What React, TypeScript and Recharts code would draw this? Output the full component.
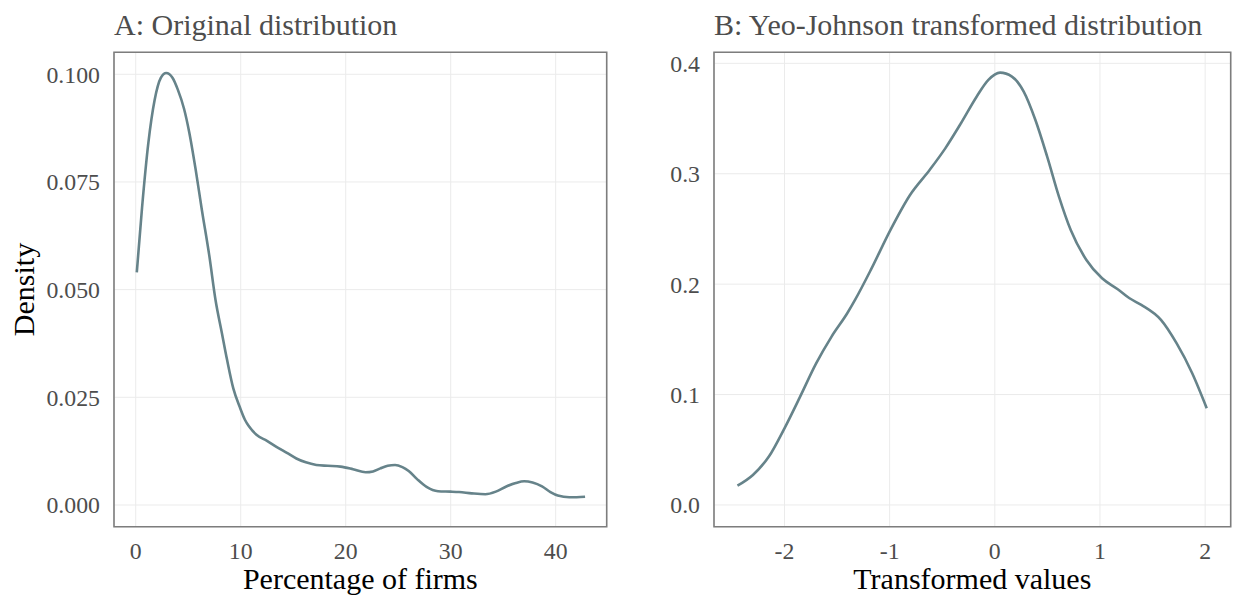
import { LineChart, Line, XAxis, YAxis, CartesianGrid, ReferenceArea, Label } from "recharts";

// A: original distribution (percentage of firms -> density)
const origX = [
  0.1, 0.6, 1.2, 1.8, 2.4, 2.9, 3.5, 4.0, 4.6, 5.1, 5.7, 6.3, 7.0, 7.6, 8.2, 8.7, 9.3, 9.9, 10.4, 10.8,
  11.5, 12.5, 13.4, 14.4, 15.3, 16.2, 17.2, 18.3, 19.5, 20.7, 21.9, 22.6, 23.3, 24.0, 24.7, 25.4, 26.0,
  26.8, 27.7, 28.8, 30.0, 30.8, 32.0, 33.3, 34.3, 35.3, 36.2, 37.0, 37.8, 38.7, 39.5, 40.2, 41.3, 42.0, 42.8,
];
const origY = [
  0.054, 0.069, 0.084, 0.094, 0.0992, 0.1003, 0.0992, 0.0965, 0.092, 0.0865, 0.078, 0.0685, 0.058, 0.0476,
  0.04, 0.0337, 0.027, 0.0228, 0.0198, 0.0182, 0.0163, 0.0149, 0.0135, 0.0121, 0.0108, 0.0099, 0.0093,
  0.0091, 0.0089, 0.0083, 0.0076, 0.0078, 0.0085, 0.0091, 0.0093, 0.0088, 0.0079, 0.006, 0.0042, 0.0032,
  0.0031, 0.003, 0.0027, 0.0025, 0.0031, 0.0043, 0.0051, 0.0055, 0.0052, 0.0043, 0.003, 0.0022, 0.0018,
  0.0018, 0.0019,
];

// B: Yeo-Johnson transformed values -> density
const yjX = [
  -2.447, -2.3, -2.148, -2.0, -1.851, -1.7, -1.552, -1.403, -1.329, -1.179, -0.993, -0.806, -0.62, -0.471,
  -0.322, -0.173, -0.061, 0.05, 0.163, 0.275, 0.386, 0.498, 0.61, 0.722, 0.871, 1.02, 1.169, 1.281, 1.393,
  1.58, 1.728, 1.877, 2.015,
];
const yjY = [
  0.0175, 0.0272, 0.0438, 0.0694, 0.0981, 0.128, 0.1525, 0.1736, 0.1857, 0.2129, 0.249, 0.2808, 0.3034,
  0.323, 0.3457, 0.3698, 0.385, 0.3916, 0.388, 0.3744, 0.3487, 0.3155, 0.2793, 0.249, 0.2219, 0.2053,
  0.1954, 0.1872, 0.1812, 0.1676, 0.1465, 0.1193, 0.0876,
];

const origXTicks = [0, 10, 20, 30, 40];
const origYTicks = [0, 0.025, 0.05, 0.075, 0.1];
const yjXTicks = [-2, -1, 0, 1, 2];
const yjYTicks = [0, 0.1, 0.2, 0.3, 0.4];

const FONT = "'Liberation Serif', 'Times New Roman', serif";
const LINE = "#66838a";
const BORDER = "#7d7d7d";
const GRID = "#ebebeb";
const TICK = "#4d4d4d";

interface PanelProps {
  xs: number[];
  ys: number[];
  xTicks: number[];
  yTicks: number[];
  xDomain: [number, number];
  yDomain: [number, number];
  yDigits: number;
  title: string;
  xTitle: string;
  yTitle?: string;
  width: number;
  yAxisWidth: number;
  rightMargin: number;
}

function Panel(p: PanelProps) {
  const data = p.xs.map((x, i) => ({ x, y: p.ys[i] }));
  const tickStyle = { fill: TICK, fontSize: 23.8, fontFamily: FONT };

  return (
    <LineChart
      width={p.width}
      height={596}
      data={data}
      margin={{ top: 52.3, right: p.rightMargin, bottom: 0, left: 0 }}
    >
      <CartesianGrid stroke={GRID} strokeWidth={1} />
      <XAxis
        type="number"
        dataKey="x"
        domain={p.xDomain}
        ticks={p.xTicks}
        allowDataOverflow
        height={69.3}
        axisLine={false}
        tickLine={false}
        tickSize={0}
        tickMargin={15}
        tick={tickStyle}
      >
        <Label
          content={(props: any) => {
            const vb = props.viewBox;
            return (
              <text
                x={vb.x + vb.width / 2}
                y={vb.y + 62.5}
                textAnchor="middle"
                fontFamily={FONT}
                fontSize={30}
                fill="#000"
              >
                {p.xTitle}
              </text>
            );
          }}
        />
      </XAxis>
      <YAxis
        type="number"
        domain={p.yDomain}
        ticks={p.yTicks}
        allowDataOverflow
        width={p.yAxisWidth}
        axisLine={false}
        tickLine={false}
        tickSize={0}
        tickMargin={14}
        tick={tickStyle}
        tickFormatter={(v: number) => v.toFixed(p.yDigits)}
      >
        <Label
          content={(props: any) => {
            const vb = props.viewBox;
            return (
              <text x={vb.x + vb.width} y={34.5} fontFamily={FONT} fontSize={30} fill={TICK}>
                {p.title}
              </text>
            );
          }}
        />
        {p.yTitle && (
          <Label
            content={(props: any) => {
              const vb = props.viewBox;
              const cy = vb.y + vb.height / 2;
              return (
                <text
                  x={34}
                  y={cy}
                  transform={`rotate(-90, 34, ${cy})`}
                  textAnchor="middle"
                  fontFamily={FONT}
                  fontSize={30}
                  fill="#000"
                >
                  {p.yTitle}
                </text>
              );
            }}
          />
        )}
      </YAxis>
      <ReferenceArea
        x1={p.xDomain[0]}
        x2={p.xDomain[1]}
        y1={p.yDomain[0]}
        y2={p.yDomain[1]}
        fill="none"
        stroke={BORDER}
        strokeWidth={1.6}
        ifOverflow="visible"
      />
      <Line
        type="monotone"
        dataKey="y"
        stroke={LINE}
        strokeWidth={2.6}
        dot={false}
        activeDot={false}
        isAnimationActive={false}
      />
    </LineChart>
  );
}

export default function App() {
  return (
    <div style={{ position: "absolute", left: 0, top: 0, width: 1235, height: 596, background: "#fff" }}>
      <div style={{ position: "absolute", left: 0, top: 0 }}>
        <Panel
          xs={origX}
          ys={origY}
          xTicks={origXTicks}
          yTicks={origYTicks}
          xDomain={[-2.07, 44.86]}
          yDomain={[-0.00504, 0.1051]}
          yDigits={3}
          title="A: Original distribution"
          xTitle="Percentage of firms"
          yTitle="Density"
          width={620}
          yAxisWidth={114}
          rightMargin={13.3}
        />
      </div>
      <div style={{ position: "absolute", left: 620, top: 0 }}>
        <Panel
          xs={yjX}
          ys={yjY}
          xTicks={yjXTicks}
          yTicks={yjYTicks}
          xDomain={[-2.67, 2.243]}
          yDomain={[-0.0197, 0.41]}
          yDigits={1}
          title="B: Yeo-Johnson transformed distribution"
          xTitle="Transformed values"
          width={615}
          yAxisWidth={94}
          rightMargin={4.3}
        />
      </div>
    </div>
  );
}
